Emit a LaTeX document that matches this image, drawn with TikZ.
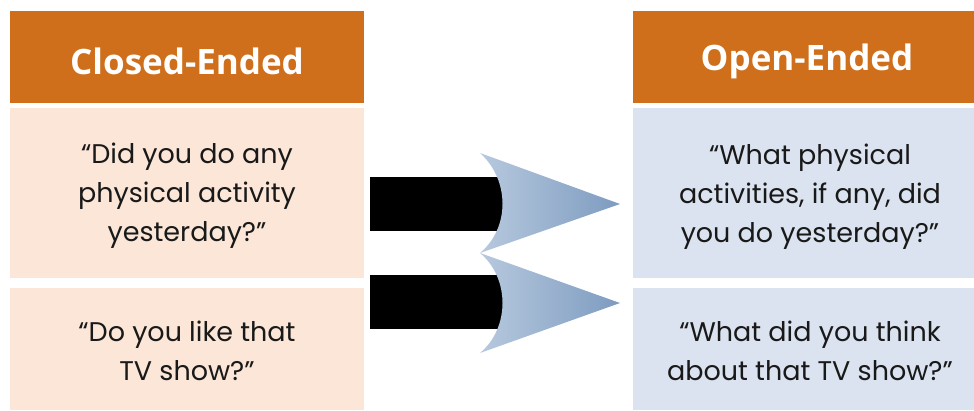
\documentclass[tikz,border=0pt]{standalone}
\usepackage{fontspec}
\setmainfont{Poppins}
\newfontfamily\headfont{Open Sans}
\usetikzlibrary{positioning}
\definecolor{qsorange}{HTML}{CF6F1B}
\definecolor{qspeach}{HTML}{FBE6D8}
\definecolor{qsblue}{HTML}{DAE3EF}
\definecolor{qsarrowlight}{HTML}{B7C9DE}
\definecolor{qsarrowdark}{HTML}{7D9BC0}
\tikzset{
  qs head/.style={fill=qsorange, text=white, font=\headfont\bfseries\fontsize{35}{40}\selectfont},
  qs closed/.style={fill=qspeach},
  qs open/.style={fill=qsblue},
  qs text/.style={align=center, font=\fontsize{27}{39}\selectfont, text=black!90},
  qs bar/.style={fill=black},
  qs arrow/.style={left color=qsarrowlight, right color=qsarrowdark, draw=none},
}
\begin{document}
\begin{tikzpicture}[x=1pt, y=-1pt]
 \clip (0,0) rectangle (974,410);
 \fill[white] (0,0) rectangle (974,410);
 % column backgrounds
 \fill[qs head] (10,11) rectangle (364,103);
 \fill[qs closed] (10,108) rectangle (364,278);
 \fill[qs closed] (10,288) rectangle (364,410);
 \fill[qs head] (633,11) rectangle (987,103);
 \fill[qs open] (633,108) rectangle (987,278);
 \fill[qs open] (633,288) rectangle (987,410);
 % headings
 \node[qs head, fill=none] (closed) at (187,61) {Closed-Ended};
 \node[qs head, fill=none] (open) at (807,61) {Open-Ended};
 % questions
 \node[qs text] (c1) at (187,196) {“Did you do any\\physical activity\\yesterday?”};
 \node[qs text] (c2) at (187,351) {“Do you like that\\TV show?”};
 \node[qs text] (o1) at (810,197) {“What physical\\activities, if any, did\\you do yesterday?”};
 \node[qs text] (o2) at (810,351) {“What did you think\\about that TV show?”};
 % bars and arrows
 \fill[qs bar] (370,177) rectangle (506,231);
 \fill[qs bar] (370,275) rectangle (506,329);
 \shade[qs arrow] (480,153) -- (620,204) -- (480,253)
   .. controls (510,228) and (510,180) .. (480,153) -- cycle;
 \shade[qs arrow] (480,253) -- (620,303) -- (480,353)
   .. controls (510,328) and (510,278) .. (480,253) -- cycle;
\end{tikzpicture}
\end{document}
